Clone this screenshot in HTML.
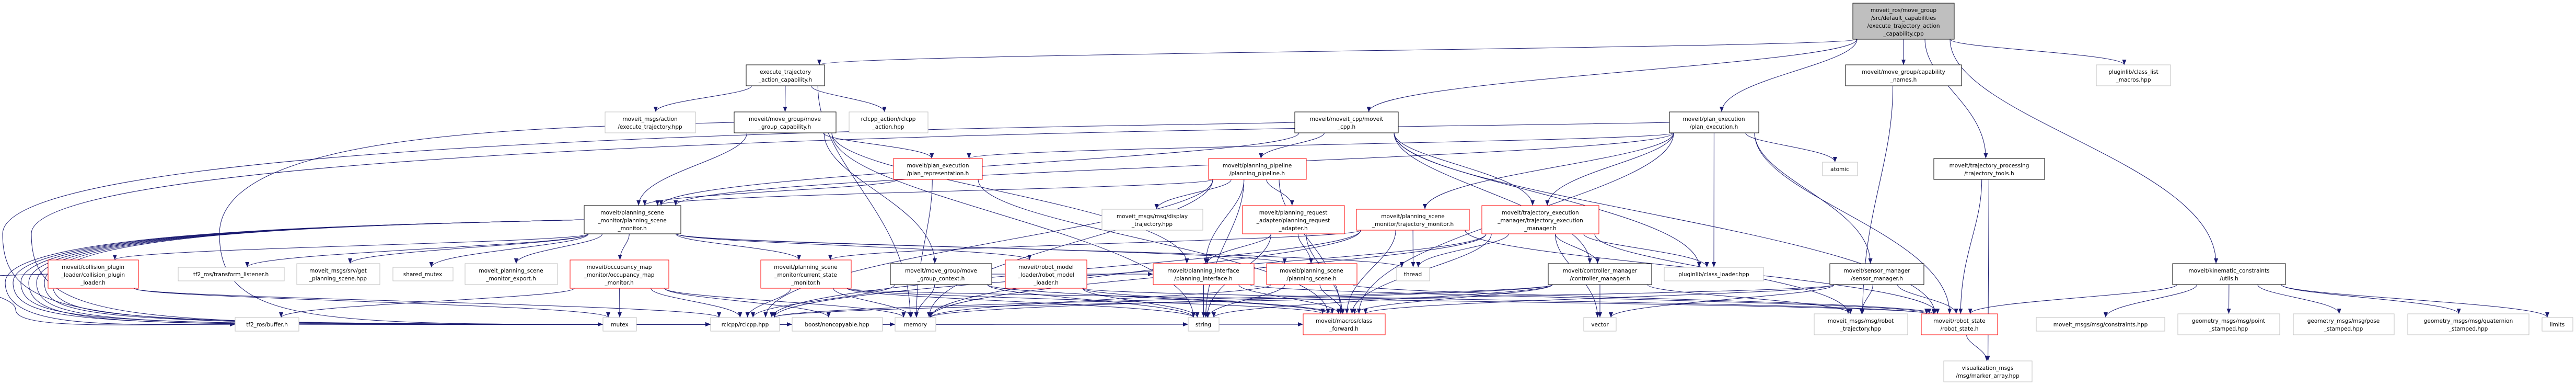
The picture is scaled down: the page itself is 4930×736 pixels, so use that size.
<!DOCTYPE html>
<html><head><meta charset="utf-8"><style>
html,body{margin:0;padding:0;background:#fff;}
svg{display:block;}
text{font-family:"DejaVu Sans","Liberation Sans",sans-serif;font-size:10.5px;fill:#000;}
</style></head><body>
<svg id="g" xmlns="http://www.w3.org/2000/svg" width="4930" height="736" viewBox="0 0 4930 736">
<defs><marker id="ah" markerWidth="10" markerHeight="8" refX="10" refY="4" orient="auto" markerUnits="userSpaceOnUse"><path d="M0,0 L10,4 L0,8 z" fill="#191970"/></marker></defs>
<g id="edges" fill="none" stroke="#191970" stroke-width="1"></g>
<g id="nodes" text-anchor="middle">
<rect x="3546" y="6" width="194" height="69" fill="#bfbfbf" stroke="#000"/>
<text x="3643" y="23">moveit_ros/move_group</text><text x="3643" y="38">/src/default_capabilities</text><text x="3643" y="53">/execute_trajectory_action</text><text x="3643" y="68">_capability.cpp</text>

<rect x="1428" y="124" width="150" height="40" fill="#fff" stroke="#000"/>
<text x="1503" y="141">execute_trajectory</text><text x="1503" y="156">_action_capability.h</text>
<rect x="3532" y="124" width="222" height="40" fill="#fff" stroke="#000"/>
<text x="3643" y="141">moveit/move_group/capability</text><text x="3643" y="156">_names.h</text>
<rect x="4012" y="124" width="142" height="40" fill="#fff" stroke="#bfbfbf"/>
<text x="4083" y="141">pluginlib/class_list</text><text x="4083" y="156">_macros.hpp</text>

<rect x="1158" y="214" width="173" height="40" fill="#fff" stroke="#bfbfbf"/>
<text x="1244" y="231">moveit_msgs/action</text><text x="1244" y="246">/execute_trajectory.hpp</text>
<rect x="1405" y="214" width="195" height="40" fill="#fff" stroke="#000"/>
<text x="1502" y="231">moveit/move_group/move</text><text x="1502" y="246">_group_capability.h</text>
<rect x="1625" y="214" width="151" height="40" fill="#fff" stroke="#bfbfbf"/>
<text x="1700" y="231">rclcpp_action/rclcpp</text><text x="1700" y="246">_action.hpp</text>
<rect x="2478" y="214" width="198" height="40" fill="#fff" stroke="#000"/>
<text x="2577" y="231">moveit/moveit_cpp/moveit</text><text x="2577" y="246">_cpp.h</text>
<rect x="3195" y="214" width="171" height="40" fill="#fff" stroke="#000"/>
<text x="3280" y="231">moveit/plan_execution</text><text x="3280" y="246">/plan_execution.h</text>

<rect x="1710" y="303" width="170" height="40" fill="#fff" stroke="#ff0000"/>
<text x="1795" y="320">moveit/plan_execution</text><text x="1795" y="335">/plan_representation.h</text>
<rect x="2313" y="303" width="187" height="40" fill="#fff" stroke="#ff0000"/>
<text x="2406" y="320">moveit/planning_pipeline</text><text x="2406" y="335">/planning_pipeline.h</text>
<rect x="3488" y="310" width="67" height="26" fill="#fff" stroke="#bfbfbf"/>
<text x="3521" y="327">atomic</text>
<rect x="3701" y="303" width="212" height="40" fill="#fff" stroke="#000"/>
<text x="3807" y="320">moveit/trajectory_processing</text><text x="3807" y="335">/trajectory_tools.h</text>

<rect x="1118" y="393" width="185" height="54" fill="#fff" stroke="#000"/>
<text x="1210" y="410">moveit/planning_scene</text><text x="1210" y="425">_monitor/planning_scene</text><text x="1210" y="440">_monitor.h</text>
<rect x="2109" y="400" width="193" height="40" fill="#fff" stroke="#bfbfbf"/>
<text x="2205" y="417">moveit_msgs/msg/display</text><text x="2205" y="432">_trajectory.hpp</text>
<rect x="2378" y="393" width="195" height="54" fill="#fff" stroke="#ff0000"/>
<text x="2475" y="410">moveit/planning_request</text><text x="2475" y="425">_adapter/planning_request</text><text x="2475" y="440">_adapter.h</text>
<rect x="2596" y="400" width="216" height="40" fill="#fff" stroke="#ff0000"/>
<text x="2704" y="417">moveit/planning_scene</text><text x="2704" y="432">_monitor/trajectory_monitor.h</text>
<rect x="2836" y="393" width="224" height="54" fill="#fff" stroke="#ff0000"/>
<text x="2948" y="410">moveit/trajectory_execution</text><text x="2948" y="425">_manager/trajectory_execution</text><text x="2948" y="440">_manager.h</text>

<rect x="92" y="497" width="173" height="54" fill="#fff" stroke="#ff0000"/>
<text x="178" y="514">moveit/collision_plugin</text><text x="178" y="529">_loader/collision_plugin</text><text x="178" y="544">_loader.h</text>
<rect x="341" y="511" width="203" height="26" fill="#fff" stroke="#bfbfbf"/>
<text x="442" y="528">tf2_ros/transform_listener.h</text>
<rect x="568" y="504" width="159" height="40" fill="#fff" stroke="#bfbfbf"/>
<text x="647" y="521">moveit_msgs/srv/get</text><text x="647" y="536">_planning_scene.hpp</text>
<rect x="752" y="511" width="115" height="26" fill="#fff" stroke="#bfbfbf"/>
<text x="809" y="528">shared_mutex</text>
<rect x="890" y="504" width="177" height="40" fill="#fff" stroke="#bfbfbf"/>
<text x="978" y="521">moveit_planning_scene</text><text x="978" y="536">_monitor_export.h</text>
<rect x="1091" y="497" width="189" height="54" fill="#fff" stroke="#ff0000"/>
<text x="1185" y="514">moveit/occupancy_map</text><text x="1185" y="529">_monitor/occupancy_map</text><text x="1185" y="544">_monitor.h</text>
<rect x="1456" y="497" width="173" height="54" fill="#fff" stroke="#ff0000"/>
<text x="1542" y="514">moveit/planning_scene</text><text x="1542" y="529">_monitor/current_state</text><text x="1542" y="544">_monitor.h</text>
<rect x="1704" y="504" width="194" height="40" fill="#fff" stroke="#000"/>
<text x="1801" y="521">moveit/move_group/move</text><text x="1801" y="536">_group_context.h</text>
<rect x="1924" y="497" width="156" height="54" fill="#fff" stroke="#ff0000"/>
<text x="2002" y="514">moveit/robot_model</text><text x="2002" y="529">_loader/robot_model</text><text x="2002" y="544">_loader.h</text>
<rect x="2207" y="504" width="193" height="40" fill="#fff" stroke="#ff0000"/>
<text x="2303" y="521">moveit/planning_interface</text><text x="2303" y="536">/planning_interface.h</text>
<rect x="2424" y="504" width="173" height="40" fill="#fff" stroke="#ff0000"/>
<text x="2510" y="521">moveit/planning_scene</text><text x="2510" y="536">/planning_scene.h</text>
<rect x="2673" y="511" width="63" height="26" fill="#fff" stroke="#bfbfbf"/>
<text x="2704" y="528">thread</text>
<rect x="2963" y="504" width="198" height="40" fill="#fff" stroke="#000"/>
<text x="3062" y="521">moveit/controller_manager</text><text x="3062" y="536">/controller_manager.h</text>
<rect x="3185" y="511" width="190" height="26" fill="#fff" stroke="#bfbfbf"/>
<text x="3280" y="528">pluginlib/class_loader.hpp</text>
<rect x="3502" y="504" width="180" height="40" fill="#fff" stroke="#000"/>
<text x="3592" y="521">moveit/sensor_manager</text><text x="3592" y="536">/sensor_manager.h</text>
<rect x="4158" y="504" width="216" height="40" fill="#fff" stroke="#000"/>
<text x="4266" y="521">moveit/kinematic_constraints</text><text x="4266" y="536">/utils.h</text>

<rect x="450" y="607" width="122" height="26" fill="#fff" stroke="#bfbfbf"/>
<text x="511" y="624">tf2_ros/buffer.h</text>
<rect x="1154" y="607" width="64" height="26" fill="#fff" stroke="#bfbfbf"/>
<text x="1186" y="624">mutex</text>
<rect x="1360" y="607" width="132" height="26" fill="#fff" stroke="#bfbfbf"/>
<text x="1426" y="624">rclcpp/rclcpp.hpp</text>
<rect x="1516" y="607" width="173" height="26" fill="#fff" stroke="#bfbfbf"/>
<text x="1602" y="624">boost/noncopyable.hpp</text>
<rect x="1713" y="607" width="78" height="26" fill="#fff" stroke="#bfbfbf"/>
<text x="1752" y="624">memory</text>
<rect x="2274" y="607" width="59" height="26" fill="#fff" stroke="#bfbfbf"/>
<text x="2303" y="624">string</text>
<rect x="2494" y="600" width="157" height="40" fill="#fff" stroke="#ff0000"/>
<text x="2572" y="617">moveit/macros/class</text><text x="2572" y="632">_forward.h</text>
<rect x="3031" y="607" width="62" height="26" fill="#fff" stroke="#bfbfbf"/>
<text x="3062" y="624">vector</text>
<rect x="3472" y="600" width="179" height="40" fill="#fff" stroke="#bfbfbf"/>
<text x="3561" y="617">moveit_msgs/msg/robot</text><text x="3561" y="632">_trajectory.hpp</text>
<rect x="3677" y="600" width="146" height="40" fill="#fff" stroke="#ff0000"/>
<text x="3750" y="617">moveit/robot_state</text><text x="3750" y="632">/robot_state.h</text>
<rect x="3897" y="607" width="246" height="26" fill="#fff" stroke="#bfbfbf"/>
<text x="4020" y="624">moveit_msgs/msg/constraints.hpp</text>
<rect x="4168" y="600" width="195" height="40" fill="#fff" stroke="#bfbfbf"/>
<text x="4265" y="617">geometry_msgs/msg/point</text><text x="4265" y="632">_stamped.hpp</text>
<rect x="4389" y="600" width="193" height="40" fill="#fff" stroke="#bfbfbf"/>
<text x="4485" y="617">geometry_msgs/msg/pose</text><text x="4485" y="632">_stamped.hpp</text>
<rect x="4608" y="600" width="232" height="40" fill="#fff" stroke="#bfbfbf"/>
<text x="4724" y="617">geometry_msgs/msg/quaternion</text><text x="4724" y="632">_stamped.hpp</text>
<rect x="4865" y="607" width="59" height="26" fill="#fff" stroke="#bfbfbf"/>
<text x="4894" y="624">limits</text>
<rect x="3720" y="690" width="169" height="40" fill="#fff" stroke="#bfbfbf"/>
<text x="3804" y="707">visualization_msgs</text><text x="3804" y="722">/msg/marker_array.hpp</text>
</g>
</svg>
<script>
var N={M:[3546,6,3740,75],E:[1428,124,1578,164],CN:[3532,124,3754,164],CLM:[4012,124,4154,164],
AET:[1158,214,1331,254],MGC:[1405,214,1600,254],RA:[1625,214,1776,254],MC:[2478,214,2676,254],PE:[3195,214,3366,254],
PR:[1710,303,1880,343],PP:[2313,303,2500,343],AT:[3488,310,3555,336],TT:[3701,303,3913,343],
PSM:[1118,393,1303,447],DT:[2109,400,2302,440],PRA:[2378,393,2573,447],TM:[2596,400,2812,440],TEM:[2836,393,3060,447],
CPL:[92,497,265,551],TL:[341,511,544,537],GPS:[568,504,727,544],SM:[752,511,867,537],EX:[890,504,1067,544],OMM:[1091,497,1280,551],
CSM:[1456,497,1629,551],MGX:[1704,504,1898,544],RML:[1924,497,2080,551],PI:[2207,504,2400,544],PS:[2424,504,2597,544],TH:[2673,511,2736,537],
CM:[2963,504,3161,544],CL:[3185,511,3375,537],SNM:[3502,504,3682,544],KC:[4158,504,4374,544],
BUF:[450,607,572,633],MUT:[1154,607,1218,633],RC:[1360,607,1492,633],BN:[1516,607,1689,633],MEM:[1713,607,1791,633],STR:[2274,607,2333,633],
CF:[2494,600,2651,640],VEC:[3031,607,3093,633],RT:[3472,600,3651,640],RS:[3677,600,3823,640],CON:[3897,607,4143,633],
PTS:[4168,600,4363,640],POS:[4389,600,4582,640],QS:[4608,600,4840,640],LIM:[4865,607,4924,633],VM:[3720,690,3889,730]};
var E={M:"E MC PE CN TT CLM KC",E:"AET MGC RA MEM",MGC:"PSM PR MGX PI STR",
MC:"PSM PP TEM CM CL RS",PE:"PR PSM TM TEM CL AT SNM RS CF",CN:"RT",TT:"RS VM",
KC:"RS CON PTS POS QS LIM",
PSM:"CPL TL GPS SM EX OMM CSM PS RML TH",
CPL:"MUT RC",OMM:"BUF MUT RC BN MEM",CSM:"RC MEM STR CF RS",MGX:"RC MEM STR CF PI",
RML:"CF STR RS",PI:"STR CF RS",PS:"CF MEM STR RS",PP:"DT PRA PI PSM RC CF STR MEM",
PRA:"PI PS CF STR",TM:"TH CSM CF RC RS MEM",TEM:"TH CM CL CF RC RT VEC MEM",
CM:"VEC STR CF RT MEM RC",SNM:"RT VEC CF RC RS",RS:"VM",PR:"PSM CF MEM"};
var L=[["PSM","BUF",10],["PSM","RC",25],["PSM","MEM",40],["PSM","MUT",55],["PSM","BN",70],["PSM","STR",85],["PSM","CF",100],
["MC","RC",5],["PE","RC",60],["MGC","RC",420],["CPL","BUF",30]];
var g=document.getElementById('edges'),out='';
function cl(v,a,b){return Math.max(a,Math.min(b,v));}
for(var s in E){E[s].split(' ').forEach(function(t){
var a=N[s],b=N[t];var acx=(a[0]+a[2])/2,bcx=(b[0]+b[2])/2;
var d;
if(b[1]>=a[3]-2){
var sx=cl(acx+(bcx-acx)*0.25,a[0]+8,a[2]-8),sy=a[3];
var tx=cl(bcx+(acx-bcx)*0.04,b[0]+10,b[2]-10),ty=b[1];
var dy=ty-sy;
d='M'+sx+','+sy+' C'+sx+','+(sy+dy*0.35)+' '+tx+','+(ty-dy*0.45)+' '+tx+','+ty;
}else{
var ay=(a[1]+a[3])/2,by=(b[1]+b[3])/2;
var sx2=bcx<acx?a[0]:a[2],tx2=bcx<acx?b[2]:b[0];
d='M'+sx2+','+ay+' C'+((sx2+tx2)/2)+','+ay+' '+((sx2+tx2)/2)+','+by+' '+tx2+','+by;
}
out+='<path d="'+d+'" marker-end="url(#ah)"/>';
});}
L.forEach(function(e){
var a=N[e[0]],b=N[e[1]],lx=e[2];
var ax=a[0],ay=(a[1]+a[3])/2;
var ty=(b[1]+b[3])/2,tx=b[0];
var my=(ay+ty)/2+20;
d='M'+ax+','+ay+' C'+(ax-400)+','+(ay+10)+' '+lx+','+(ay+20)+' '+lx+','+my+' C'+lx+','+(ty+10)+' '+(lx+200)+','+ty+' '+tx+','+ty;
out+='<path d="'+d+'" marker-end="url(#ah)"/>';
});
g.innerHTML=out;
</script>
</body></html>
